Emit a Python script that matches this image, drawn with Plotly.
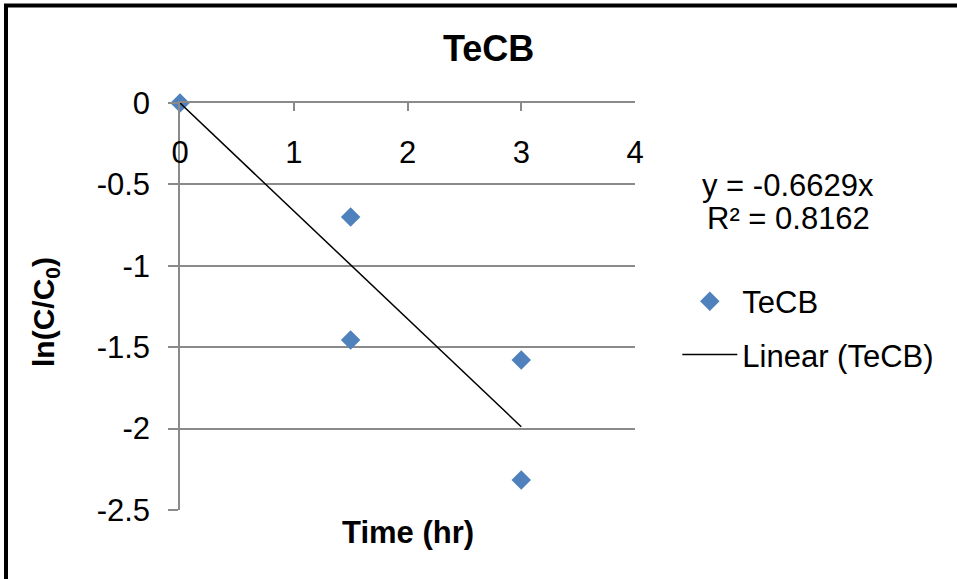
import plotly.graph_objects as go

time_hr = [0, 1.5, 1.5, 3, 3]
ln_ratio = [0, -0.70, -1.456, -1.578, -2.316]
slope = -0.6629
r2 = 0.8162
trend_x = [0, 3]
trend_y = [slope * x for x in trend_x]
x_ticks = [0, 1, 2, 3, 4]
y_ticks = [0, -0.5, -1, -1.5, -2, -2.5]

FONT = "Liberation Sans, Arial, sans-serif"
GRID = "#8a8a8a"

fig = go.Figure()
fig.add_trace(go.Scatter(
    x=time_hr, y=ln_ratio, mode="markers", name="TeCB",
    marker=dict(symbol="diamond", size=15, color="#4F81BD"),
    legendgroup="a", cliponaxis=False))
fig.add_trace(go.Scatter(
    x=trend_x, y=trend_y, mode="lines", name="Linear (TeCB)",
    line=dict(color="black", width=1.5), legendgroup="b"))

fig.update_layout(
    width=957, height=579,
    margin=dict(l=180, r=322, t=103, b=69),
    paper_bgcolor="white", plot_bgcolor="white",
    font=dict(family=FONT, size=31, color="black"),
    showlegend=True,
    legend=dict(x=1.093, y=0.447, xanchor="left", yanchor="middle",
                font=dict(size=31, color="black"), tracegroupgap=10, itemwidth=55,
                bgcolor="rgba(0,0,0,0)"),
    xaxis=dict(range=[0, 4], tickvals=x_ticks, side="top",
               ticklabelposition="inside", ticklabeloverflow="allow",
               ticks="inside", ticklen=8, tickcolor=GRID, tickwidth=1.5,
               ticklabelstandoff=34, tickfont=dict(color="black", size=31),
               showline=True, linecolor=GRID, linewidth=1.5,
               showgrid=False, zeroline=False, fixedrange=True),
    yaxis=dict(range=[-2.5, 0], tickvals=y_ticks,
               ticktext=[("%g" % v) for v in y_ticks],
               ticks="outside", ticklen=10, tickcolor=GRID, tickwidth=1.5,
               ticklabelstandoff=12, tickfont=dict(color="black", size=31),
               showline=True, linecolor=GRID, linewidth=1.5,
               showgrid=True, gridcolor=GRID, gridwidth=1.5,
               zeroline=False, fixedrange=True),
    annotations=[
        dict(text="<b>TeCB</b>", xref="paper", yref="paper",
             x=(488 - 180) / 455, y=(510 - 48) / 407, showarrow=False,
             font=dict(size=36), xanchor="center", yanchor="middle"),
        dict(text="<b>Time (hr)</b>", xref="paper", yref="paper",
             x=(408 - 180) / 455, y=(510 - 532) / 407, showarrow=False,
             font=dict(size=31), xanchor="center", yanchor="middle"),
        dict(text="<b>ln(C/C<sub>0</sub>)</b>", xref="paper", yref="paper",
             x=(45 - 180) / 455, y=(510 - 312) / 407, showarrow=False,
             textangle=-90, font=dict(size=30), xanchor="center", yanchor="middle"),
        dict(text="y = %.4fx" % slope, xref="paper", yref="paper",
             x=(788 - 180) / 455, y=(510 - 185) / 407, showarrow=False,
             font=dict(size=31), xanchor="center", yanchor="middle"),
        dict(text="R² = %.4f" % r2, xref="paper", yref="paper",
             x=(788 - 180) / 455, y=(510 - 218) / 407, showarrow=False,
             font=dict(size=31), xanchor="center", yanchor="middle"),
    ],
    shapes=[
        dict(type="line", xref="paper", yref="paper",
             x0=(4 - 180) / 455, x1=(957 - 180) / 455,
             y0=(510 - 5.5) / 407, y1=(510 - 5.5) / 407,
             line=dict(color="black", width=4)),
        dict(type="line", xref="paper", yref="paper",
             x0=(6 - 180) / 455, x1=(6 - 180) / 455,
             y0=(510 - 4) / 407, y1=(510 - 579) / 407,
             line=dict(color="black", width=4)),
    ],
)

fig.write_html("out.html", config={"displayModeBar": False},
               post_script="document.body.style.margin='0';document.body.style.overflow='hidden';")
